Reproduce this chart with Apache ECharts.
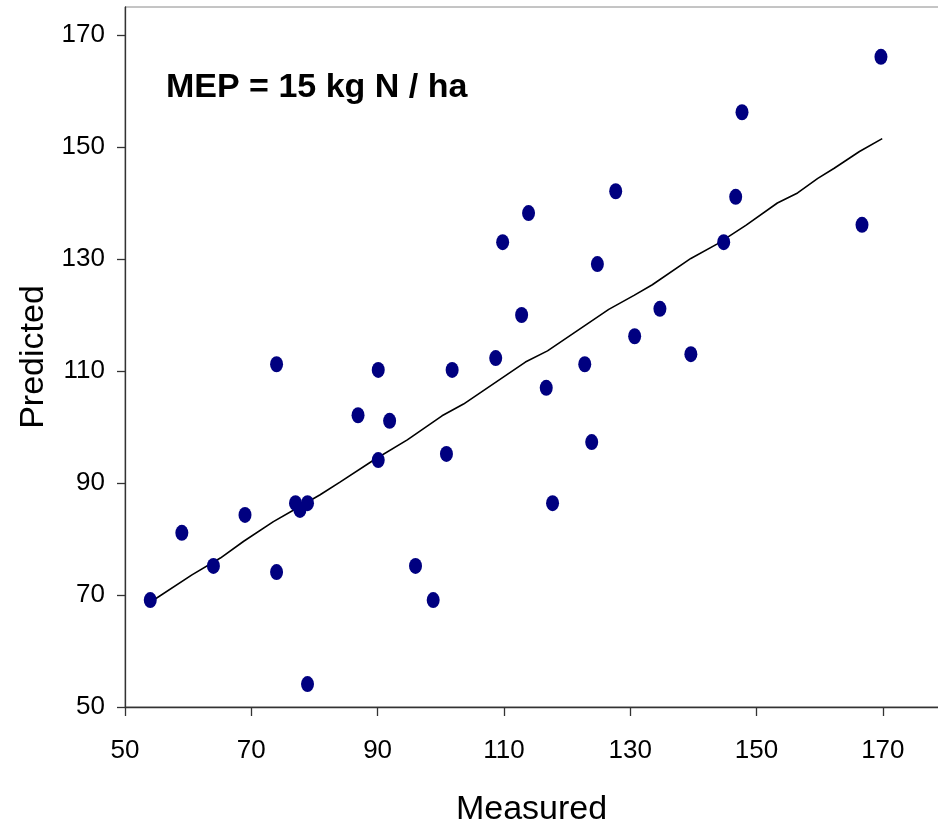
<!DOCTYPE html>
<html>
<head>
<meta charset="utf-8">
<script src="https://cdn.jsdelivr.net/npm/echarts@6/dist/echarts.min.js"></script>
<style>
  html, body { margin: 0; padding: 0; background: #fff; overflow: hidden; }
  #chart { width: 938px; height: 828px; }
</style>
</head>
<body>
<div id="chart"></div>
<script>
// Measured vs predicted observations
const measured = [54, 59, 64, 69, 74, 74, 77, 77.7, 78.9, 78.9, 86.9, 90.1, 90.1, 91.9, 96, 98.8, 100.9, 101.8, 108.7, 109.8, 112.8, 113.9, 116.7, 117.7, 122.8, 123.9, 124.8, 127.7, 130.7, 134.7, 139.6, 144.8, 146.7, 147.7, 166.7, 169.7];
const predicted = [69.1, 81.1, 75.2, 84.3, 111.2, 74.1, 86.4, 85.2, 86.4, 54.1, 102.1, 110.2, 94.1, 101.1, 75.2, 69.1, 95.2, 110.2, 112.3, 133.0, 120.0, 138.2, 107.0, 86.4, 111.2, 97.3, 129.1, 142.1, 116.2, 121.1, 113.0, 133.0, 141.1, 156.2, 136.1, 166.1];

// Fitted line vertices
const lineX = [54.0, 60.6, 65.1, 68.8, 73.5, 77.2, 80.9, 84.1, 89.4, 94.7, 100.2, 103.6, 113.4, 116.9, 126.6, 130.6, 133.5, 139.6, 143.8, 148.3, 153.3, 156.5, 159.7, 162.3, 166.3, 169.9];
const lineY = [68.7, 73.6, 76.6, 79.6, 83.1, 85.5, 87.9, 90.2, 94.1, 97.7, 102.0, 104.1, 111.6, 113.6, 121.0, 123.5, 125.4, 130.1, 132.7, 136.0, 140.0, 141.8, 144.4, 146.2, 149.2, 151.5];

const xTicks = [50, 70, 90, 110, 130, 150, 170];
const yTicks = [50, 70, 90, 110, 130, 150, 170];

const xTitle = 'Measured';
const yTitle = 'Predicted';
const annotation = 'MEP = 15 kg N / ha';

const scatterData = measured.map((m, i) => [m, predicted[i]]);
const lineData = lineX.map((x, i) => [x, lineY[i]]);

const FONT = 'Liberation Sans, Arial, sans-serif';

const chart = echarts.init(document.getElementById('chart'), null, { renderer: 'canvas' });
chart.setOption({
  animation: false,
  backgroundColor: '#ffffff',
  grid: {
    left: 125, top: 7, width: 821, height: 700,
    containLabel: false, outerBoundsMode: 'none',
    show: true, borderColor: '#8a8a8a', borderWidth: 1, backgroundColor: 'transparent'
  },
  xAxis: {
    type: 'value', min: 50, max: 180, interval: 20,
    name: xTitle, nameLocation: 'middle', nameGap: 86,
    nameTextStyle: { fontFamily: FONT, fontSize: 34, color: '#000', padding: [0, 8, 0, 0] },
    axisLine: { show: true, onZero: false, lineStyle: { color: '#333', width: 1.3 } },
    axisTick: { show: true, inside: false, length: 9, customValues: xTicks, lineStyle: { color: '#333', width: 1.3 } },
    axisLabel: { customValues: xTicks, margin: 31, fontFamily: FONT, fontSize: 26, color: '#000' },
    splitLine: { show: false }
  },
  yAxis: {
    type: 'value', min: 50, max: 175, interval: 20,
    name: yTitle, nameLocation: 'middle', nameGap: 67, nameRotate: 90,
    nameTextStyle: { fontFamily: FONT, fontSize: 34, color: '#000' },
    axisLine: { show: true, onZero: false, lineStyle: { color: '#333', width: 1.3 } },
    axisTick: { show: true, inside: false, length: 8, customValues: yTicks, lineStyle: { color: '#333', width: 1.3 } },
    axisLabel: { customValues: yTicks, margin: 20, fontFamily: FONT, fontSize: 26, color: '#000' },
    splitLine: { show: false }
  },
  graphic: [{
    type: 'text', left: 166, top: 71, silent: true,
    style: { text: annotation, fontFamily: FONT, fontSize: 34, fontWeight: 'bold', fill: '#000' }
  }],
  series: [
    {
      type: 'line', data: lineData, showSymbol: false, symbol: 'none',
      lineStyle: { color: '#000', width: 1.6 }, z: 2, silent: true
    },
    {
      type: 'scatter', data: scatterData, symbol: 'circle', symbolSize: [13, 16],
      itemStyle: { color: '#000080', opacity: 1 }, z: 3
    }
  ]
});
</script>
</body>
</html>
